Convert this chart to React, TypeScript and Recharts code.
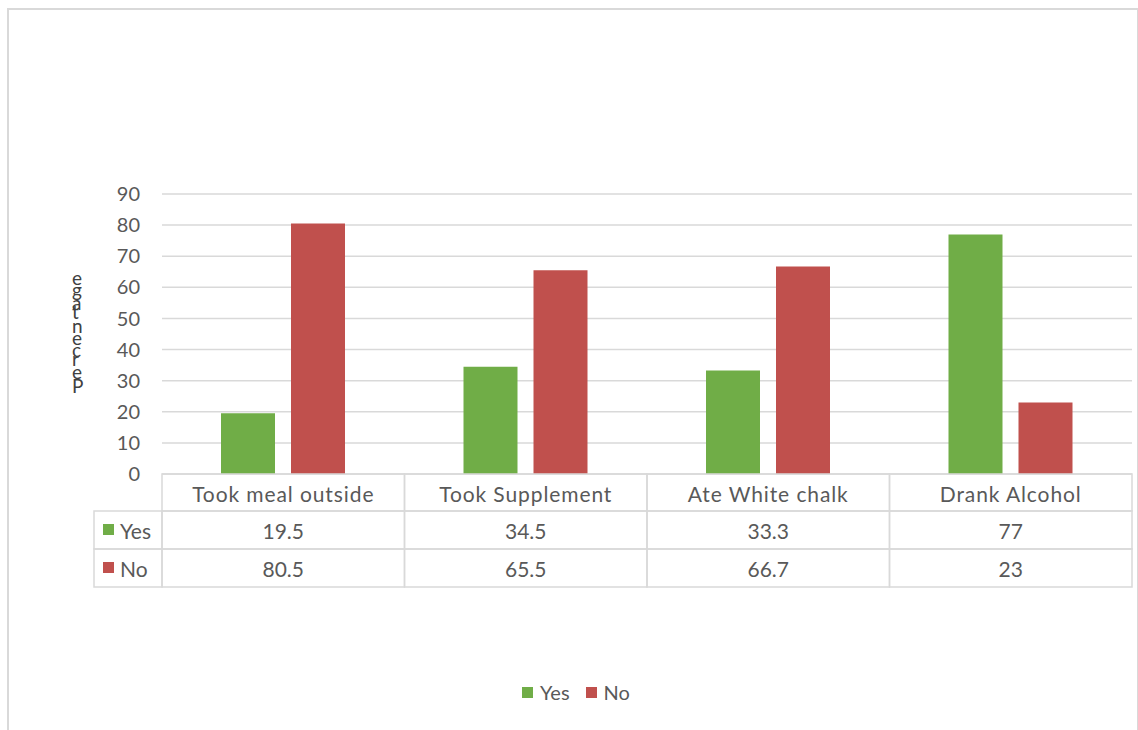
import { BarChart, Bar, XAxis, YAxis, CartesianGrid, Legend } from "recharts";

const categories = ["Took meal outside", "Took Supplement", "Ate White chalk", "Drank Alcohol"];
const yesValues = [19.5, 34.5, 33.3, 77];
const noValues = [80.5, 65.5, 66.7, 23];
const yTicks = [0, 10, 20, 30, 40, 50, 60, 70, 80, 90];
const seriesNames = ["Yes", "No"];
const yLabel = "Percentage";

const data = categories.map((name, i) => ({ name, Yes: yesValues[i], No: noValues[i] }));

const W = 1138;
const H = 730;
const PLOT_LEFT = 162;
const PLOT_RIGHT = 1132;
const PLOT_TOP = 194;
const PLOT_BOTTOM = 474;
const BOTTOM_MARGIN = 143;
const BAND = (PLOT_RIGHT - PLOT_LEFT) / categories.length;
const HEAD_H = 37;
const ROW_H = 38;
const ROWHEAD_W = 68;

const GREEN = "#70ad47";
const RED = "#c0504d";
const TEXT = "#595959";
const LINE = "#d9d9d9";
const FONT = "Lato, sans-serif";
const colors = [GREEN, RED];
const rows = [yesValues, noValues];

function TableTick(props: any) {
  const { x, y, payload } = props;
  const i = payload.index;
  const left = x - BAND / 2;
  const cell = { fill: "none", stroke: LINE, strokeWidth: 1.5 };
  return (
    <g fontFamily={FONT} fontSize={21} fill={TEXT}>
      <rect x={left} y={y} width={BAND} height={HEAD_H} {...cell} />
      <text
        x={x}
        y={y + HEAD_H / 2 + 1}
        textAnchor="middle"
        dominantBaseline="central"
        fill={TEXT}
        letterSpacing={0.9}
      >
        {payload.value}
      </text>
      {rows.map((vals, r) => (
        <g key={r}>
          <rect x={left} y={y + HEAD_H + r * ROW_H} width={BAND} height={ROW_H} {...cell} />
          <text
            x={x}
            y={y + HEAD_H + r * ROW_H + ROW_H / 2}
            textAnchor="middle"
            dominantBaseline="central"
            fill={TEXT}
          >
            {vals[i]}
          </text>
        </g>
      ))}
      {i === 0 &&
        seriesNames.map((s, r) => (
          <g key={s}>
            <rect x={left - ROWHEAD_W} y={y + HEAD_H + r * ROW_H} width={ROWHEAD_W} height={ROW_H} {...cell} />
            <rect x={left - ROWHEAD_W + 9} y={y + HEAD_H + r * ROW_H + 13} width={11} height={11} fill={colors[r]} />
            <text
              x={left - ROWHEAD_W + 26}
              y={y + HEAD_H + r * ROW_H + ROW_H / 2}
              dominantBaseline="central"
              fill={TEXT}
            >
              {s}
            </text>
          </g>
        ))}
    </g>
  );
}

// Axis title as in the source: line runs bottom-to-top, each glyph kept upright
function StackedLabel(props: any) {
  const { viewBox } = props;
  const sx = viewBox.x + 72;
  const sy = 393;
  return (
    <text
      transform="rotate(-90)"
      x={-sy}
      y={sx}
      rotate="90"
      fontFamily={FONT}
      fontSize={19}
      fill="#404040"
      letterSpacing={2.8}
    >
      {yLabel}
    </text>
  );
}

function LegendContent() {
  return (
    <div
      style={{
        display: "flex",
        justifyContent: "center",
        gap: 16,
        fontFamily: FONT,
        fontSize: 20,
        color: TEXT,
        paddingLeft: 14,
      }}
    >
      {seriesNames.map((s, r) => (
        <div key={s} style={{ display: "flex", alignItems: "center", gap: 7 }}>
          <span style={{ width: 11, height: 11, background: colors[r], display: "inline-block" }} />
          <span>{s}</span>
        </div>
      ))}
    </div>
  );
}

export default function App() {
  return (
    <div style={{ position: "absolute", left: 0, top: 0, width: W, height: H, overflow: "hidden", background: "#fff" }}>
      <div
        style={{
          position: "absolute",
          left: 7,
          top: 8,
          width: 1128,
          height: 800,
          border: `2px solid ${LINE}`,
        }}
      />
      <div style={{ position: "absolute", left: 0, top: 0 }}>
        <BarChart
          width={W}
          height={H}
          data={data}
          margin={{ top: PLOT_TOP, right: W - PLOT_RIGHT, bottom: BOTTOM_MARGIN, left: 0 }}
          barCategoryGap={59}
          barGap={16}
        >
          <CartesianGrid vertical={false} stroke={LINE} strokeWidth={1.5} />
          <XAxis
            dataKey="name"
            axisLine={false}
            tickLine={false}
            tickSize={0}
            tickMargin={0}
            height={H - BOTTOM_MARGIN - PLOT_BOTTOM}
            interval={0}
            tick={<TableTick />}
          />
          <YAxis
            width={PLOT_LEFT}
            domain={[0, 90]}
            ticks={yTicks}
            axisLine={false}
            tickLine={false}
            tickMargin={16}
            tick={{ fill: TEXT, fontSize: 20, fontFamily: FONT }}
            label={{ content: <StackedLabel /> }}
          />
          <Legend
            layout="horizontal"
            align="center"
            verticalAlign="middle"
            content={<LegendContent />}
            wrapperStyle={{ position: "absolute", top: 680, left: 0, width: W }}
          />
          <Bar dataKey="Yes" fill={GREEN} isAnimationActive={false} />
          <Bar dataKey="No" fill={RED} isAnimationActive={false} />
        </BarChart>
      </div>
    </div>
  );
}
